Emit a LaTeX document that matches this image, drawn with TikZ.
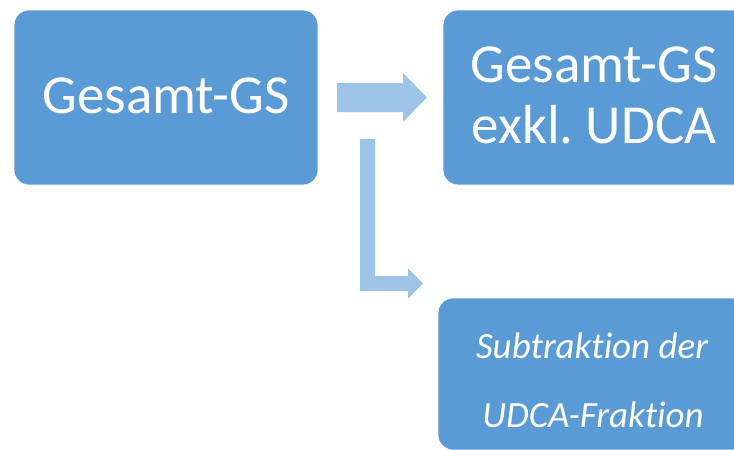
\documentclass[tikz,border=0pt]{standalone}
\usepackage{fontspec}
\setmainfont[Ligatures={NoCommon,NoContextual,NoRare}]{Carlito}
\definecolor{boxblue}{HTML}{5B9BD5}
\definecolor{arrowblue}{HTML}{9DC3E6}
\tikzset{
  bluebox/.style={fill=boxblue, draw=white, line width=0.8pt, rounded corners=15pt, inner sep=0pt},
  bigtext/.style={text=white, font=\fontsize{55}{60}\selectfont, anchor=base, inner sep=0pt},
  smalltext/.style={text=white, font=\fontsize{37}{40}\selectfont\itshape, anchor=base, inner sep=0pt},
  blockarrow/.style={fill=arrowblue}
}
\frenchspacing
\begin{document}
\begin{tikzpicture}[x=1pt,y=-1pt]
\useasboundingbox (0,0) rectangle (734,450);
\clip (0,0) rectangle (734,450);
% boxes
\node[bluebox, minimum width=304pt, minimum height=175pt] (gs) at (166,97.5) {};
\node[bluebox, minimum width=310pt, minimum height=175pt] (excl) at (598,97.5) {};
\node[bluebox, minimum width=310pt, minimum height=152pt] (sub) at (593,374) {};
% texts
\node[bigtext] (t1) at (166,113) {Gesamt-GS};
\node[bigtext] (t2) at (594,82) {Gesamt-GS};
\node[bigtext] (t3) at (594,143) {exkl.\ UDCA};
\node[smalltext] (t4) at (592,358) {Subtraktion der};
\node[smalltext] (t5) at (593,427) {UDCA-Fraktion};
% arrows
\fill[blockarrow] (337,83) -- (403,83) -- (403,73) -- (427,97.5) -- (403,122) -- (403,112) -- (337,112) -- cycle;
\fill[blockarrow] (360,139) -- (375,139) -- (375,276) -- (408,276) -- (408,268.5) -- (423,283.5) -- (408,298.5) -- (408,291) -- (360,291) -- cycle;
\end{tikzpicture}
\end{document}
